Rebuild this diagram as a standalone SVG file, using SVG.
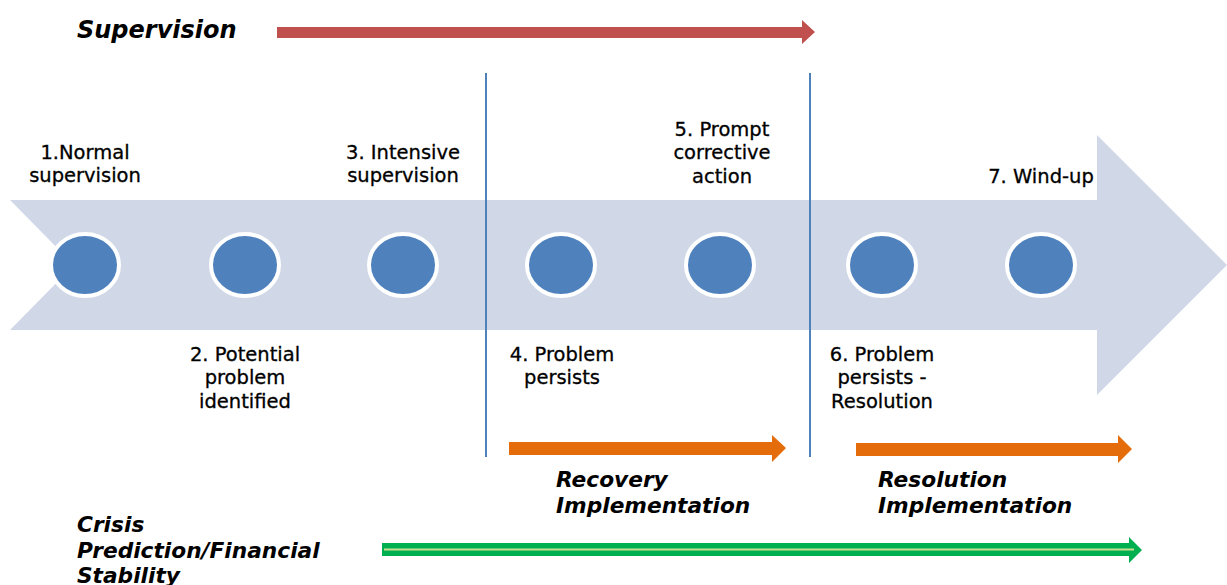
<svg xmlns="http://www.w3.org/2000/svg" width="1227" height="585" viewBox="0 0 1227 585">
<style>
.lbl{font-family:"DejaVu Sans",Verdana,sans-serif;font-size:19.5px;fill:#000;stroke:#000;stroke-width:0.3;text-anchor:middle}
.ttl{font-family:"DejaVu Sans",Verdana,sans-serif;font-size:21.7px;font-weight:bold;font-style:italic;fill:#000}
.dot{fill:#4F81BD;stroke:#fff;stroke-width:4}
.div{stroke:#4F81BD;stroke-width:2;fill:none}
</style>
<rect width="1227" height="585" fill="#fff"/>
<g id="timeline">
<polygon points="10,200 1097,200 1097,135 1227,265 1097,395 1097,330 10,330 74,265" fill="#D0D8E8"/>
</g>
<g id="dividers">
<line class="div" x1="486" y1="73" x2="486" y2="457"/>
<line class="div" x1="810" y1="73" x2="810" y2="457"/>
</g>
<g id="connectors">
<polygon id="supervision-arrow" points="277,27 802,27 802,20 815,32 802,44 802,38 277,38" fill="#C0504D"/>
<polygon id="recovery-arrow" points="509,442 772,442 772,435 786,448 772,462 772,455 509,455" fill="#E46C0A"/>
<polygon id="resolution-arrow" points="856,443 1118,443 1118,435 1132,449 1118,463 1118,456 856,456" fill="#E46C0A"/>
<g id="crisis-arrow">
<polygon points="382,543 1129,543 1129,537 1142,550 1129,563 1129,556 382,556" fill="#00B050"/>
<line x1="384" y1="549.5" x2="1134" y2="549.5" stroke="#C9DE8E" stroke-width="2"/>
</g>
</g>
<g id="stage1"><ellipse class="dot" cx="85" cy="265" rx="34" ry="31"/><text class="lbl" x="85"><tspan x="85" y="159">1.Normal</tspan><tspan x="85" y="182">supervision</tspan></text></g>
<g id="stage2"><ellipse class="dot" cx="245" cy="265" rx="34" ry="31"/><text class="lbl"><tspan x="245" y="361">2. Potential</tspan><tspan x="245" y="384">problem</tspan><tspan x="245" y="408">identified</tspan></text></g>
<g id="stage3"><ellipse class="dot" cx="403" cy="265" rx="34" ry="31"/><text class="lbl"><tspan x="403" y="159">3. Intensive</tspan><tspan x="403" y="182">supervision</tspan></text></g>
<g id="stage4"><ellipse class="dot" cx="561" cy="265" rx="34" ry="31"/><text class="lbl"><tspan x="562" y="361">4. Problem</tspan><tspan x="562" y="384">persists</tspan></text></g>
<g id="stage5"><ellipse class="dot" cx="720" cy="265" rx="34" ry="31"/><text class="lbl"><tspan x="722" y="136">5. Prompt</tspan><tspan x="722" y="159">corrective</tspan><tspan x="722" y="183">action</tspan></text></g>
<g id="stage6"><ellipse class="dot" cx="882" cy="265" rx="34" ry="31"/><text class="lbl"><tspan x="882" y="361">6. Problem</tspan><tspan x="882" y="384">persists -</tspan><tspan x="882" y="408">Resolution</tspan></text></g>
<g id="stage7"><ellipse class="dot" cx="1041" cy="265" rx="34" ry="31"/><text class="lbl"><tspan x="1041" y="183">7. Wind-up</tspan></text></g>
<g id="titles">
<text class="ttl" x="77" y="38" style="font-size:24px">Supervision</text>
<text class="ttl"><tspan x="556" y="487">Recovery</tspan><tspan x="556" y="513">Implementation</tspan></text>
<text class="ttl"><tspan x="878" y="487">Resolution</tspan><tspan x="878" y="513">Implementation</tspan></text>
<text class="ttl"><tspan x="77" y="532">Crisis</tspan><tspan x="77" y="558">Prediction/Financial</tspan><tspan x="77" y="583">Stability</tspan></text>
</g>
</svg>
